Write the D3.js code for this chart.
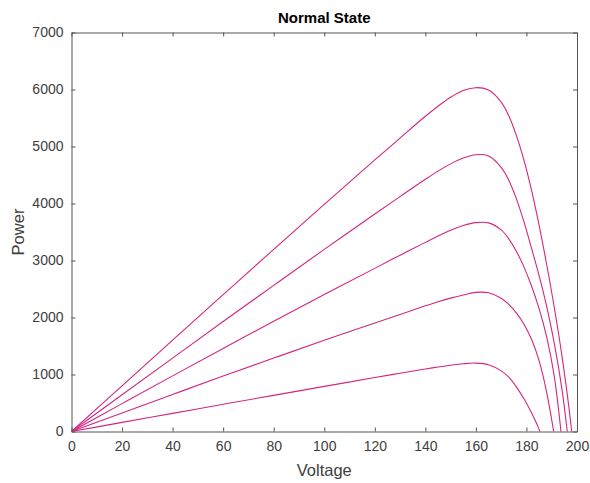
<!DOCTYPE html>
<meta charset="utf-8">
<head>
    <script src="https://d3js.org/d3.v7.min.js"></script>
    <style>
    body { margin: 0; background: #fff; }
    .axis text { font-family: "Liberation Sans", Arial, sans-serif; font-size: 14px; fill: #404040; }
    .axis line, .axis path { stroke: #555; }
    .label { font-family: "Liberation Sans", Arial, sans-serif; font-size: 16.5px; fill: #404040; }
    .title { font-family: "Liberation Sans", Arial, sans-serif; font-size: 15px; font-weight: bold; fill: #000; }
    .curve { fill: none; stroke: #d4267e; stroke-width: 1.1px; }
    </style>
</head>
<body>
<svg id="chart"></svg>
<script>

// voltage samples shared by every curve
var voltage = [0, 20, 40, 60, 80, 100, 120, 130, 140, 145, 150, 155, 160, 165,
               170, 173, 176, 179, 182, 185, 188, 191, 194, 197, 200];

// power, one array per irradiance level (top to bottom)
var power1 = [0, 802, 1602, 2400, 3196, 3985, 4764, 5148, 5530, 5706, 5865, 5983, 6032, 5990,
              5780, 5540, 5195, 4760, 4235, 3620, 2930, 2180, 1340, 350, -910];
var power2 = [0, 645, 1288, 1929, 2564, 3195, 3816, 4121, 4424, 4568, 4695, 4797, 4856, 4835,
              4635, 4410, 4086, 3681, 3216, 2736, 2196, 1551, 756, -324, -1600];
var power3 = [0, 489, 976, 1458, 1936, 2405, 2862, 3094, 3318, 3430, 3530, 3614, 3664, 3660,
              3536, 3380, 3164, 2888, 2552, 2156, 1661, 971, -139, -1500, -3000];
var power4 = [0, 326, 650, 972, 1288, 1600, 1902, 2054, 2205, 2277, 2340, 2395, 2440, 2434,
              2338, 2230, 2080, 1882, 1618, 1243, 688, -62, -962, -2200, -3600];
var power5 = [0, 160, 318, 477, 634, 791, 946, 1022, 1096, 1131, 1163, 1189, 1200, 1172,
              1063, 952, 783, 573, 328, 37, -353, -800, -1400, -2100, -3000];

var xTicks = [0, 20, 40, 60, 80, 100, 120, 140, 160, 180, 200];
var yTicks = [0, 1000, 2000, 3000, 4000, 5000, 6000, 7000];

var series = [power1, power2, power3, power4, power5];

var W = 590, H = 483;
var margin = {top: 32.5, right: 13, bottom: 51.5, left: 71.5},
    width = W - margin.left - margin.right,
    height = H - margin.top - margin.bottom;

var x = d3.scaleLinear().domain([0, 200]).range([0, width]);
var y = d3.scaleLinear().domain([0, 7000]).range([height, 0]);

var svg = d3.select("#chart")
    .attr("width", W)
    .attr("height", H)
    .append("g")
    .attr("transform", "translate(" + margin.left + "," + margin.top + ")");

svg.append("clipPath")
    .attr("id", "clip")
    .append("rect")
    .attr("width", width)
    .attr("height", height);

// curves
var line = d3.line()
    .x(function(d, i) { return x(voltage[i]); })
    .y(function(d) { return y(d); })
    .curve(d3.curveCatmullRom.alpha(0.5));

svg.append("g")
    .attr("clip-path", "url(#clip)")
    .selectAll("path")
    .data(series)
    .enter().append("path")
    .attr("class", "curve")
    .attr("d", line);

// axes, ticks pointing inward (box style)
svg.append("g")
    .attr("class", "axis")
    .attr("transform", "translate(0," + height + ")")
    .call(d3.axisBottom(x).tickValues(xTicks).tickSizeInner(-4).tickSizeOuter(0).tickPadding(10));

svg.append("g")
    .attr("class", "axis")
    .call(d3.axisLeft(y).tickValues(yTicks).tickFormat(d3.format("d")).tickSizeInner(-4).tickSizeOuter(0).tickPadding(8));

svg.append("g")
    .attr("class", "axis")
    .call(d3.axisTop(x).tickValues(xTicks).tickFormat("").tickSizeInner(-4).tickSizeOuter(0));

svg.append("g")
    .attr("class", "axis")
    .attr("transform", "translate(" + width + ",0)")
    .call(d3.axisRight(y).tickValues(yTicks).tickFormat("").tickSizeInner(-4).tickSizeOuter(0));

// title and labels
svg.append("text")
    .attr("class", "title")
    .attr("x", width / 2)
    .attr("y", -10)
    .attr("text-anchor", "middle")
    .text("Normal State");

svg.append("text")
    .attr("class", "label")
    .attr("x", width / 2)
    .attr("y", height + 44)
    .attr("text-anchor", "middle")
    .text("Voltage");

svg.append("text")
    .attr("class", "label")
    .attr("transform", "rotate(-90)")
    .attr("x", -height / 2)
    .attr("y", -48)
    .attr("text-anchor", "middle")
    .text("Power");

</script>
</body>
